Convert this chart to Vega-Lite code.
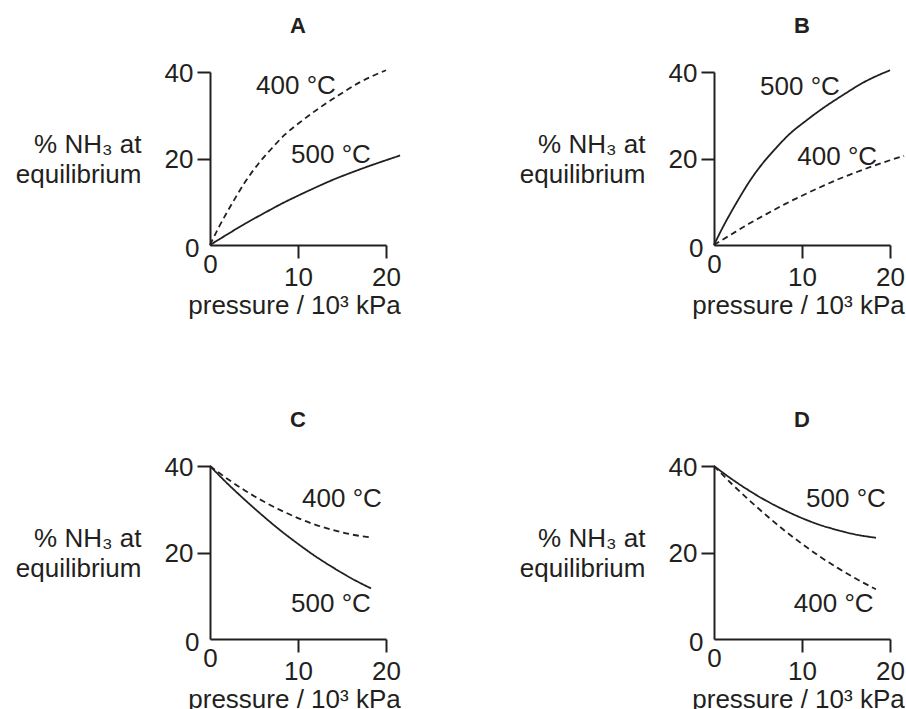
{
  "$schema": "https://vega.github.io/schema/vega-lite/v6.json",
  "background": "white",
  "padding": {"left": 15, "top": 15, "right": 0, "bottom": 0},
  "config": {
    "view": {"stroke": null},
    "font": "Liberation Sans",
    "axis": {
      "grid": false,
      "domainColor": "#231f20", "domainWidth": 2,
      "tickColor": "#231f20", "tickWidth": 2, "tickSize": 13,
      "labelFont": "Liberation Sans", "labelFontSize": 26, "labelColor": "#231f20",
      "labelFlush": false, "labelOverlap": false, "labelBound": false,
      "titleFont": "Liberation Sans", "titleFontSize": 26, "titleFontWeight": "normal", "titleColor": "#231f20"
    },
    "title": {"font": "Liberation Sans", "fontSize": 22, "fontWeight": "bold", "color": "#231f20", "baseline": "alphabetic", "offset": 22, "anchor": "middle"},
    "text": {"font": "Liberation Sans", "fontSize": 26, "color": "#231f20"}
  },
  "datasets": {
    "curves": [
      {"panel": "A", "series": "400", "style": "dashed", "p": 0, "pct": 0},
      {"panel": "A", "series": "400", "style": "dashed", "p": 1, "pct": 4.1},
      {"panel": "A", "series": "400", "style": "dashed", "p": 2, "pct": 7.8},
      {"panel": "A", "series": "400", "style": "dashed", "p": 3, "pct": 11.3},
      {"panel": "A", "series": "400", "style": "dashed", "p": 4, "pct": 14.6},
      {"panel": "A", "series": "400", "style": "dashed", "p": 5.5, "pct": 18.8},
      {"panel": "A", "series": "400", "style": "dashed", "p": 7, "pct": 22.3},
      {"panel": "A", "series": "400", "style": "dashed", "p": 8.5, "pct": 25.5},
      {"panel": "A", "series": "400", "style": "dashed", "p": 10.5, "pct": 28.8},
      {"panel": "A", "series": "400", "style": "dashed", "p": 12.5, "pct": 31.8},
      {"panel": "A", "series": "400", "style": "dashed", "p": 14.6, "pct": 34.6},
      {"panel": "A", "series": "400", "style": "dashed", "p": 17, "pct": 37.6},
      {"panel": "A", "series": "400", "style": "dashed", "p": 20, "pct": 40.4},
      {"panel": "A", "series": "500", "style": "solid", "p": 0, "pct": 0},
      {"panel": "A", "series": "500", "style": "solid", "p": 2, "pct": 2.5},
      {"panel": "A", "series": "500", "style": "solid", "p": 4, "pct": 4.95},
      {"panel": "A", "series": "500", "style": "solid", "p": 6, "pct": 7.2},
      {"panel": "A", "series": "500", "style": "solid", "p": 8, "pct": 9.4},
      {"panel": "A", "series": "500", "style": "solid", "p": 10, "pct": 11.4},
      {"panel": "A", "series": "500", "style": "solid", "p": 12, "pct": 13.3},
      {"panel": "A", "series": "500", "style": "solid", "p": 14, "pct": 15.1},
      {"panel": "A", "series": "500", "style": "solid", "p": 16, "pct": 16.7},
      {"panel": "A", "series": "500", "style": "solid", "p": 18, "pct": 18.2},
      {"panel": "A", "series": "500", "style": "solid", "p": 20, "pct": 19.6},
      {"panel": "A", "series": "500", "style": "solid", "p": 21.6, "pct": 20.7},
      {"panel": "B", "series": "500", "style": "solid", "p": 0, "pct": 0},
      {"panel": "B", "series": "500", "style": "solid", "p": 1, "pct": 4.1},
      {"panel": "B", "series": "500", "style": "solid", "p": 2, "pct": 7.8},
      {"panel": "B", "series": "500", "style": "solid", "p": 3, "pct": 11.3},
      {"panel": "B", "series": "500", "style": "solid", "p": 4, "pct": 14.6},
      {"panel": "B", "series": "500", "style": "solid", "p": 5.5, "pct": 18.8},
      {"panel": "B", "series": "500", "style": "solid", "p": 7, "pct": 22.3},
      {"panel": "B", "series": "500", "style": "solid", "p": 8.5, "pct": 25.5},
      {"panel": "B", "series": "500", "style": "solid", "p": 10.5, "pct": 28.8},
      {"panel": "B", "series": "500", "style": "solid", "p": 12.5, "pct": 31.8},
      {"panel": "B", "series": "500", "style": "solid", "p": 14.6, "pct": 34.6},
      {"panel": "B", "series": "500", "style": "solid", "p": 17, "pct": 37.6},
      {"panel": "B", "series": "500", "style": "solid", "p": 20, "pct": 40.4},
      {"panel": "B", "series": "400", "style": "dashed", "p": 0, "pct": 0},
      {"panel": "B", "series": "400", "style": "dashed", "p": 2, "pct": 2.5},
      {"panel": "B", "series": "400", "style": "dashed", "p": 4, "pct": 4.95},
      {"panel": "B", "series": "400", "style": "dashed", "p": 6, "pct": 7.2},
      {"panel": "B", "series": "400", "style": "dashed", "p": 8, "pct": 9.4},
      {"panel": "B", "series": "400", "style": "dashed", "p": 10, "pct": 11.4},
      {"panel": "B", "series": "400", "style": "dashed", "p": 12, "pct": 13.3},
      {"panel": "B", "series": "400", "style": "dashed", "p": 14, "pct": 15.1},
      {"panel": "B", "series": "400", "style": "dashed", "p": 16, "pct": 16.7},
      {"panel": "B", "series": "400", "style": "dashed", "p": 18, "pct": 18.2},
      {"panel": "B", "series": "400", "style": "dashed", "p": 20, "pct": 19.6},
      {"panel": "B", "series": "400", "style": "dashed", "p": 21.6, "pct": 20.6},
      {"panel": "C", "series": "400", "style": "dashed", "p": 0, "pct": 40},
      {"panel": "C", "series": "400", "style": "dashed", "p": 2, "pct": 37.0},
      {"panel": "C", "series": "400", "style": "dashed", "p": 4, "pct": 34.3},
      {"panel": "C", "series": "400", "style": "dashed", "p": 6, "pct": 31.9},
      {"panel": "C", "series": "400", "style": "dashed", "p": 8, "pct": 29.8},
      {"panel": "C", "series": "400", "style": "dashed", "p": 10, "pct": 27.95},
      {"panel": "C", "series": "400", "style": "dashed", "p": 12, "pct": 26.4},
      {"panel": "C", "series": "400", "style": "dashed", "p": 14, "pct": 25.2},
      {"panel": "C", "series": "400", "style": "dashed", "p": 16, "pct": 24.2},
      {"panel": "C", "series": "400", "style": "dashed", "p": 18.3, "pct": 23.5},
      {"panel": "C", "series": "500", "style": "solid", "p": 0, "pct": 40},
      {"panel": "C", "series": "500", "style": "solid", "p": 2, "pct": 35.9},
      {"panel": "C", "series": "500", "style": "solid", "p": 4, "pct": 32.1},
      {"panel": "C", "series": "500", "style": "solid", "p": 6, "pct": 28.5},
      {"panel": "C", "series": "500", "style": "solid", "p": 8, "pct": 25.1},
      {"panel": "C", "series": "500", "style": "solid", "p": 10, "pct": 22.0},
      {"panel": "C", "series": "500", "style": "solid", "p": 12, "pct": 19.1},
      {"panel": "C", "series": "500", "style": "solid", "p": 14, "pct": 16.5},
      {"panel": "C", "series": "500", "style": "solid", "p": 16, "pct": 14.1},
      {"panel": "C", "series": "500", "style": "solid", "p": 18.3, "pct": 11.7},
      {"panel": "D", "series": "500", "style": "solid", "p": 0, "pct": 40},
      {"panel": "D", "series": "500", "style": "solid", "p": 2, "pct": 37.0},
      {"panel": "D", "series": "500", "style": "solid", "p": 4, "pct": 34.3},
      {"panel": "D", "series": "500", "style": "solid", "p": 6, "pct": 31.9},
      {"panel": "D", "series": "500", "style": "solid", "p": 8, "pct": 29.8},
      {"panel": "D", "series": "500", "style": "solid", "p": 10, "pct": 27.95},
      {"panel": "D", "series": "500", "style": "solid", "p": 12, "pct": 26.4},
      {"panel": "D", "series": "500", "style": "solid", "p": 14, "pct": 25.2},
      {"panel": "D", "series": "500", "style": "solid", "p": 16, "pct": 24.2},
      {"panel": "D", "series": "500", "style": "solid", "p": 18.4, "pct": 23.4},
      {"panel": "D", "series": "400", "style": "dashed", "p": 0, "pct": 40},
      {"panel": "D", "series": "400", "style": "dashed", "p": 2, "pct": 35.9},
      {"panel": "D", "series": "400", "style": "dashed", "p": 4, "pct": 32.1},
      {"panel": "D", "series": "400", "style": "dashed", "p": 6, "pct": 28.5},
      {"panel": "D", "series": "400", "style": "dashed", "p": 8, "pct": 25.1},
      {"panel": "D", "series": "400", "style": "dashed", "p": 10, "pct": 22.0},
      {"panel": "D", "series": "400", "style": "dashed", "p": 12, "pct": 19.1},
      {"panel": "D", "series": "400", "style": "dashed", "p": 14, "pct": 16.5},
      {"panel": "D", "series": "400", "style": "dashed", "p": 16, "pct": 14.1},
      {"panel": "D", "series": "400", "style": "dashed", "p": 18.4, "pct": 11.5}
    ],
    "labels": [
      {"panel": "A", "label": "400 °C", "p": 9.77, "pct": 36.8},
      {"panel": "A", "label": "500 °C", "p": 13.75, "pct": 20.8},
      {"panel": "B", "label": "500 °C", "p": 9.77, "pct": 36.5},
      {"panel": "B", "label": "400 °C", "p": 14.0, "pct": 20.3},
      {"panel": "C", "label": "400 °C", "p": 15.0, "pct": 32.3},
      {"panel": "C", "label": "500 °C", "p": 13.75, "pct": 8.1},
      {"panel": "D", "label": "500 °C", "p": 15.0, "pct": 32.3},
      {"panel": "D", "label": "400 °C", "p": 13.6, "pct": 8.1}
    ]
  },
  "columns": 2,
  "spacing": {"column": 328, "row": 221},
  "bounds": "flush",
  "concat": [
    {
      "title": {"text": "A"},
      "width": 176, "height": 173,
      "encoding": {
        "x": {"field": "p", "type": "quantitative", "scale": {"domain": [0, 20], "nice": false},
          "axis": {"values": [0, 10, 20], "labelAngle": 0, "labelBaseline": "top",
            "tickOpacity": {"condition": {"test": "datum.value === 0", "value": 0}, "value": 1},
            "labelPadding": {"condition": {"test": "datum.value === 0", "value": -7}, "value": 6},
            "title": "pressure / 10³ kPa", "titleX": 84, "titleY": 68, "titleAlign": "center", "titleBaseline": "alphabetic"}},
        "y": {"field": "pct", "type": "quantitative", "scale": {"domain": [0, 40], "nice": false},
          "axis": {"values": [0, 20, 40], "labelBaseline": "middle",
            "tickOpacity": {"condition": {"test": "datum.value === 0", "value": 0}, "value": 1},
            "labelPadding": {"condition": {"test": "datum.value === 0", "value": -2}, "value": 4},
            "labelOffset": {"condition": {"test": "datum.value === 0", "value": 3}, "value": 1},
            "title": ["% NH₃ at", "equilibrium"], "titleAngle": 0, "titleAlign": "right", "titleBaseline": "alphabetic", "titleX": -69, "titleY": 80, "titleLineHeight": 30}}
      },
      "layer": [
        {"data": {"name": "curves"}, "transform": [{"filter": "datum.panel === 'A'"}],
          "mark": {"type": "line", "clip": false, "interpolate": "monotone", "strokeWidth": 1.8, "color": "#231f20"},
          "encoding": {"detail": {"field": "series"}, "strokeDash": {"field": "style", "type": "nominal", "scale": {"domain": ["solid", "dashed"], "range": [[1, 0], [6, 4]]}, "legend": null}}},
        {"data": {"name": "labels"}, "transform": [{"filter": "datum.panel === 'A'"}],
          "mark": {"type": "text", "align": "center", "baseline": "middle"},
          "encoding": {"text": {"field": "label"}}}
      ]
    },
    {
      "title": {"text": "B"},
      "width": 176, "height": 173,
      "encoding": {
        "x": {"field": "p", "type": "quantitative", "scale": {"domain": [0, 20], "nice": false},
          "axis": {"values": [0, 10, 20], "labelAngle": 0, "labelBaseline": "top",
            "tickOpacity": {"condition": {"test": "datum.value === 0", "value": 0}, "value": 1},
            "labelPadding": {"condition": {"test": "datum.value === 0", "value": -7}, "value": 6},
            "title": "pressure / 10³ kPa", "titleX": 84, "titleY": 68, "titleAlign": "center", "titleBaseline": "alphabetic"}},
        "y": {"field": "pct", "type": "quantitative", "scale": {"domain": [0, 40], "nice": false},
          "axis": {"values": [0, 20, 40], "labelBaseline": "middle",
            "tickOpacity": {"condition": {"test": "datum.value === 0", "value": 0}, "value": 1},
            "labelPadding": {"condition": {"test": "datum.value === 0", "value": -2}, "value": 4},
            "labelOffset": {"condition": {"test": "datum.value === 0", "value": 3}, "value": 1},
            "title": ["% NH₃ at", "equilibrium"], "titleAngle": 0, "titleAlign": "right", "titleBaseline": "alphabetic", "titleX": -69, "titleY": 80, "titleLineHeight": 30}}
      },
      "layer": [
        {"data": {"name": "curves"}, "transform": [{"filter": "datum.panel === 'B'"}],
          "mark": {"type": "line", "clip": false, "interpolate": "monotone", "strokeWidth": 1.8, "color": "#231f20"},
          "encoding": {"detail": {"field": "series"}, "strokeDash": {"field": "style", "type": "nominal", "scale": {"domain": ["solid", "dashed"], "range": [[1, 0], [6, 4]]}, "legend": null}}},
        {"data": {"name": "labels"}, "transform": [{"filter": "datum.panel === 'B'"}],
          "mark": {"type": "text", "align": "center", "baseline": "middle"},
          "encoding": {"text": {"field": "label"}}}
      ]
    },
    {
      "title": {"text": "C"},
      "width": 176, "height": 173,
      "encoding": {
        "x": {"field": "p", "type": "quantitative", "scale": {"domain": [0, 20], "nice": false},
          "axis": {"values": [0, 10, 20], "labelAngle": 0, "labelBaseline": "top",
            "tickOpacity": {"condition": {"test": "datum.value === 0", "value": 0}, "value": 1},
            "labelPadding": {"condition": {"test": "datum.value === 0", "value": -7}, "value": 6},
            "title": "pressure / 10³ kPa", "titleX": 84, "titleY": 68, "titleAlign": "center", "titleBaseline": "alphabetic"}},
        "y": {"field": "pct", "type": "quantitative", "scale": {"domain": [0, 40], "nice": false},
          "axis": {"values": [0, 20, 40], "labelBaseline": "middle",
            "tickOpacity": {"condition": {"test": "datum.value === 0", "value": 0}, "value": 1},
            "labelPadding": {"condition": {"test": "datum.value === 0", "value": -2}, "value": 4},
            "labelOffset": {"condition": {"test": "datum.value === 0", "value": 3}, "value": 1},
            "title": ["% NH₃ at", "equilibrium"], "titleAngle": 0, "titleAlign": "right", "titleBaseline": "alphabetic", "titleX": -69, "titleY": 80, "titleLineHeight": 30}}
      },
      "layer": [
        {"data": {"name": "curves"}, "transform": [{"filter": "datum.panel === 'C'"}],
          "mark": {"type": "line", "clip": false, "interpolate": "monotone", "strokeWidth": 1.8, "color": "#231f20"},
          "encoding": {"detail": {"field": "series"}, "strokeDash": {"field": "style", "type": "nominal", "scale": {"domain": ["solid", "dashed"], "range": [[1, 0], [6, 4]]}, "legend": null}}},
        {"data": {"name": "labels"}, "transform": [{"filter": "datum.panel === 'C'"}],
          "mark": {"type": "text", "align": "center", "baseline": "middle"},
          "encoding": {"text": {"field": "label"}}}
      ]
    },
    {
      "title": {"text": "D"},
      "width": 176, "height": 173,
      "encoding": {
        "x": {"field": "p", "type": "quantitative", "scale": {"domain": [0, 20], "nice": false},
          "axis": {"values": [0, 10, 20], "labelAngle": 0, "labelBaseline": "top",
            "tickOpacity": {"condition": {"test": "datum.value === 0", "value": 0}, "value": 1},
            "labelPadding": {"condition": {"test": "datum.value === 0", "value": -7}, "value": 6},
            "title": "pressure / 10³ kPa", "titleX": 84, "titleY": 68, "titleAlign": "center", "titleBaseline": "alphabetic"}},
        "y": {"field": "pct", "type": "quantitative", "scale": {"domain": [0, 40], "nice": false},
          "axis": {"values": [0, 20, 40], "labelBaseline": "middle",
            "tickOpacity": {"condition": {"test": "datum.value === 0", "value": 0}, "value": 1},
            "labelPadding": {"condition": {"test": "datum.value === 0", "value": -2}, "value": 4},
            "labelOffset": {"condition": {"test": "datum.value === 0", "value": 3}, "value": 1},
            "title": ["% NH₃ at", "equilibrium"], "titleAngle": 0, "titleAlign": "right", "titleBaseline": "alphabetic", "titleX": -69, "titleY": 80, "titleLineHeight": 30}}
      },
      "layer": [
        {"data": {"name": "curves"}, "transform": [{"filter": "datum.panel === 'D'"}],
          "mark": {"type": "line", "clip": false, "interpolate": "monotone", "strokeWidth": 1.8, "color": "#231f20"},
          "encoding": {"detail": {"field": "series"}, "strokeDash": {"field": "style", "type": "nominal", "scale": {"domain": ["solid", "dashed"], "range": [[1, 0], [6, 4]]}, "legend": null}}},
        {"data": {"name": "labels"}, "transform": [{"filter": "datum.panel === 'D'"}],
          "mark": {"type": "text", "align": "center", "baseline": "middle"},
          "encoding": {"text": {"field": "label"}}}
      ]
    }
  ]
}
